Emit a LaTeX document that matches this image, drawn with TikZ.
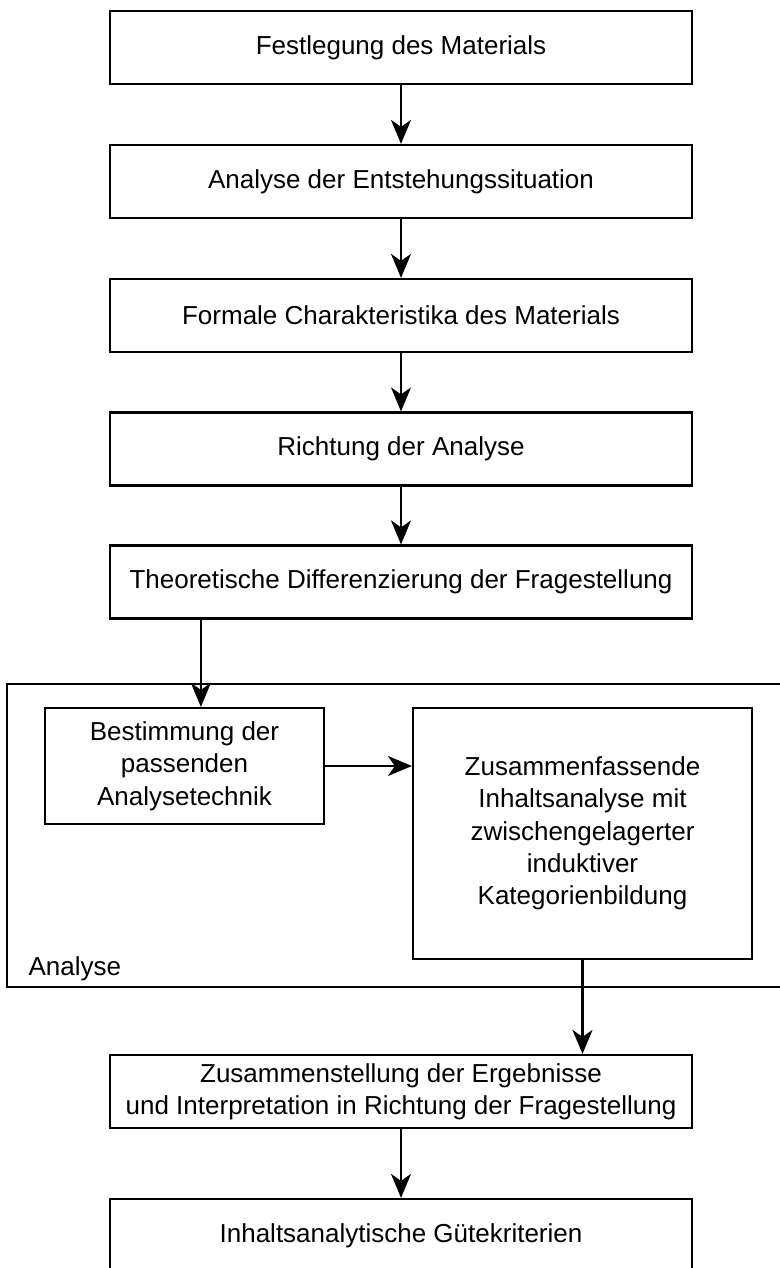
\documentclass[tikz,border=0pt]{standalone}
\usepackage{fontspec}
\setmainfont{Liberation Sans}
\usetikzlibrary{arrows.meta,positioning,calc}

\tikzset{
  stepbox/.style={draw, line width=2.2pt, align=center, inner sep=0pt,
    minimum width=582pt, minimum height=73pt},
  frame/.style={draw, line width=2.2pt},
  arr/.style={line width=2.2pt, -{Stealth[length=24pt,width=20pt,inset=7pt]}},
}

\begin{document}
\begin{tikzpicture}[x=1pt, y=-1pt,
  font=\fontsize{26}{32.3}\selectfont]
  \useasboundingbox (0,0) rectangle (779,1268);

  % main sequence of steps
  \node[stepbox] (n1) at (401,47.5)  {Festlegung des Materials};
  \node[stepbox] (n2) at (401,181.5) {Analyse der Entstehungssituation};
  \node[stepbox] (n3) at (401,315.5) {Formale Charakteristika des Materials};
  \node[stepbox] (n4) at (401,449)   {Richtung der Analyse};
  \node[stepbox] (n5) at (401,582)   {Theoretische Differenzierung der Fragestellung};

  % analysis group
  \draw[frame] (800,684) -- (7,684) -- (7,987) -- (800,987);
  \node[anchor=base west] (lab) at (25,975) {Analyse};
  \node[stepbox, minimum width=279pt, minimum height=116pt] (n6) at (184.5,766)
    {Bestimmung der\\passenden\\Analysetechnik};
  \node[stepbox, minimum width=339pt, minimum height=251pt] (n7) at (582.5,833.5)
    {Zusammenfassende\\Inhaltsanalyse mit\\zwischengelagerter\\induktiver\\Kategorienbildung};

  % final steps
  \node[stepbox] (n8) at (401,1091.5)
    {Zusammenstellung der Ergebnisse\\und Interpretation in Richtung der Fragestellung};
  \node[stepbox] (n9) at (401,1235.5) {Inhaltsanalytische Gütekriterien};

  % connectors
  \draw[arr] (n1.south) -- (n2.north);
  \draw[arr] (n2.south) -- (n3.north);
  \draw[arr] (n3.south) -- (n4.north);
  \draw[arr] (n4.south) -- (n5.north);
  \draw[arr] ([xshift=92pt]n5.south west) coordinate (a) -- (a |- n6.north);
  \draw[arr] (n6.east) -- (n6.east -| n7.west);
  \draw[arr] (n7.south) -- (n7.south |- n8.north);
  \draw[arr] (n8.south) -- (n9.north);
\end{tikzpicture}
\end{document}
